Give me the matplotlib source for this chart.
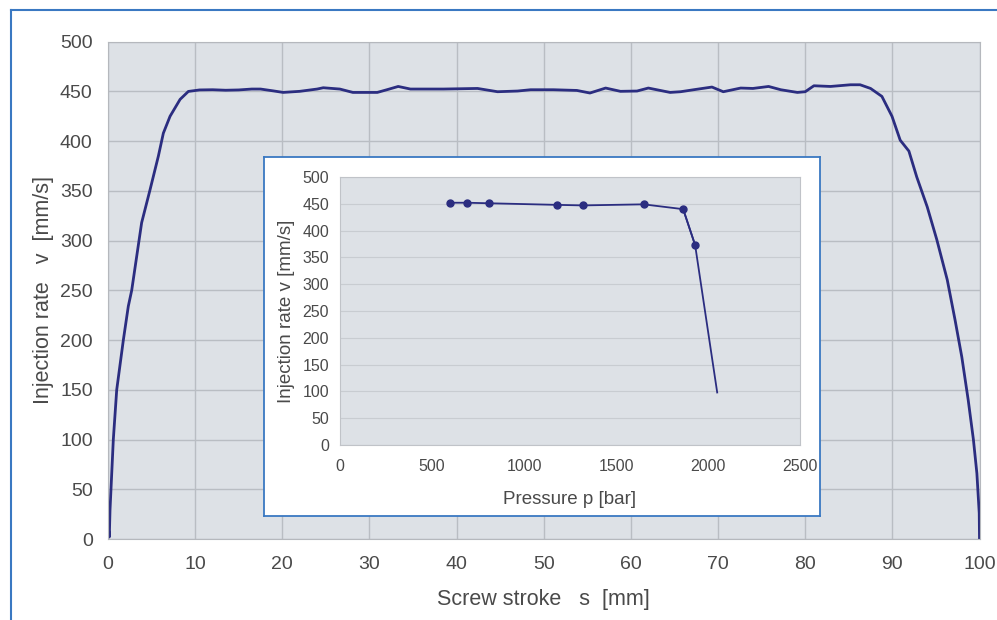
import numpy as np
import matplotlib.pyplot as plt
from matplotlib.lines import Line2D

plt.rcParams['font.family'] = ['Liberation Sans', 'DejaVu Sans']

# main curve: screw stroke s [mm] vs injection rate v [mm/s]
stroke = [0.0, 0.15, 0.23, 0.61, 1.0, 1.76, 2.33, 2.72, 3.29, 3.86, 4.82, 5.78, 6.35, 7.12, 8.27, 9.22,
          10.5, 12.0, 13.5, 15.0, 16.5, 17.5, 19.0, 20.1, 22.0, 24.0, 24.7, 26.6, 28.1, 30.9, 32.0, 33.3,
          34.7, 38.5, 42.4, 44.7, 47.0, 48.5, 51.1, 53.8, 55.3, 57.1, 58.8, 60.7, 62.0, 64.5, 65.7, 67.2,
          69.3, 70.6, 72.6, 74.0, 75.8, 77.2, 79.1, 80.0, 81.0, 82.9, 85.2, 86.3, 87.5, 88.8, 89.96, 90.9,
          91.9, 92.8, 94.0, 95.1, 96.3, 97.2, 97.97, 98.7, 99.3, 99.7, 99.97, 100.0]
rate = [15, 2, 29, 100, 150, 200, 234, 250, 284, 318, 351, 385, 408, 425, 442, 450,
        451.5, 451.7, 451.2, 451.5, 452.4, 452.4, 450.5, 449.0, 450.1, 452.4, 453.7, 452.4, 449.0, 449.0, 451.7, 455.0,
        452.4, 452.4, 453.0, 449.7, 450.4, 451.7, 451.7, 451.0, 448.4, 453.4, 450.1, 450.4, 453.4, 449.0, 449.7, 451.7,
        454.4, 449.7, 453.4, 453.0, 455.0, 451.7, 449.0, 449.7, 455.7, 455.0, 456.7, 456.7, 453.0, 445.0, 425.0, 401.0,
        390.0, 364.0, 334.0, 301.0, 260.6, 220.0, 183.0, 140.0, 100.0, 66.0, 26.0, 1.0]

# inset: pressure p [bar] vs injection rate v [mm/s]
pressure = [600, 690, 810, 1180, 1320, 1650, 1865, 1930, 2050]
rate_p = [452, 452, 451, 448, 447, 449, 440, 373, 98]

navy = '#2b2d80'
txt = '#4a4a4a'
bg = '#dde1e6'
frame = '#3a78c2'

fig = plt.figure(figsize=(9.97, 6.2), dpi=100)

# outer blue frame (top and left)
fig.add_artist(Line2D([11/997, 1.0], [1-10/620, 1-10/620], color=frame, lw=1.5, transform=fig.transFigure))
fig.add_artist(Line2D([11/997, 11/997], [0, 1-10/620], color=frame, lw=1.5, transform=fig.transFigure))

ax = fig.add_axes([108/997, 1-539/620, 871.5/997, 497.3/620])
ax.set_facecolor(bg)
ax.plot(stroke, rate, color=navy, lw=2.0)
ax.set_xlim(0, 100)
ax.set_ylim(0, 500)
ax.set_xticks(np.arange(0, 101, 10))
ax.set_yticks(np.arange(0, 501, 50))
ax.grid(True, color='#b9bdc3', lw=1)
ax.set_axisbelow(True)
for sp in ax.spines.values():
    sp.set_color('#b5b8bd')
ax.tick_params(length=0, labelsize=14, colors=txt)
ax.tick_params(axis='x', pad=12)
ax.tick_params(axis='y', pad=11)
ax.set_xlabel('Screw stroke   s  [mm]', fontsize=15.5, color=txt, labelpad=12)
ax.set_ylabel('Injection rate   v  [mm/s]', fontsize=15.5, color=txt, labelpad=4)

# white box behind the inset
box = fig.add_axes([264/997, 1-516/620, 556/997, 359/620])
box.set_facecolor('white')
box.set_xticks([])
box.set_yticks([])
for sp in box.spines.values():
    sp.set_color(frame)
    sp.set_linewidth(1.3)

ins = fig.add_axes([340/997, 1-445/620, 460/997, 268/620])
ins.set_facecolor(bg)
ins.plot(pressure[:-1], rate_p[:-1], color=navy, lw=1.3, marker='o', ms=5)
ins.plot(pressure[-3:], rate_p[-3:], color=navy, lw=1.3)
ins.set_xlim(0, 2500)
ins.set_ylim(0, 500)
ins.set_xticks(np.arange(0, 2501, 500))
ins.set_yticks(np.arange(0, 501, 50))
ins.grid(True, axis='y', color='#c8ccd1', lw=0.8)
ins.set_axisbelow(True)
for sp in ins.spines.values():
    sp.set_color('#c0c3c8')
ins.tick_params(length=0, labelsize=11.5, colors=txt)
ins.tick_params(axis='x', pad=10)
ins.tick_params(axis='y', pad=8)
ins.set_xlabel('Pressure p [bar]', fontsize=13.5, color=txt, labelpad=12)
ins.set_ylabel('Injection rate v [mm/s]', fontsize=13.5, color=txt, labelpad=5)

fig.savefig('out.png', dpi=100)
